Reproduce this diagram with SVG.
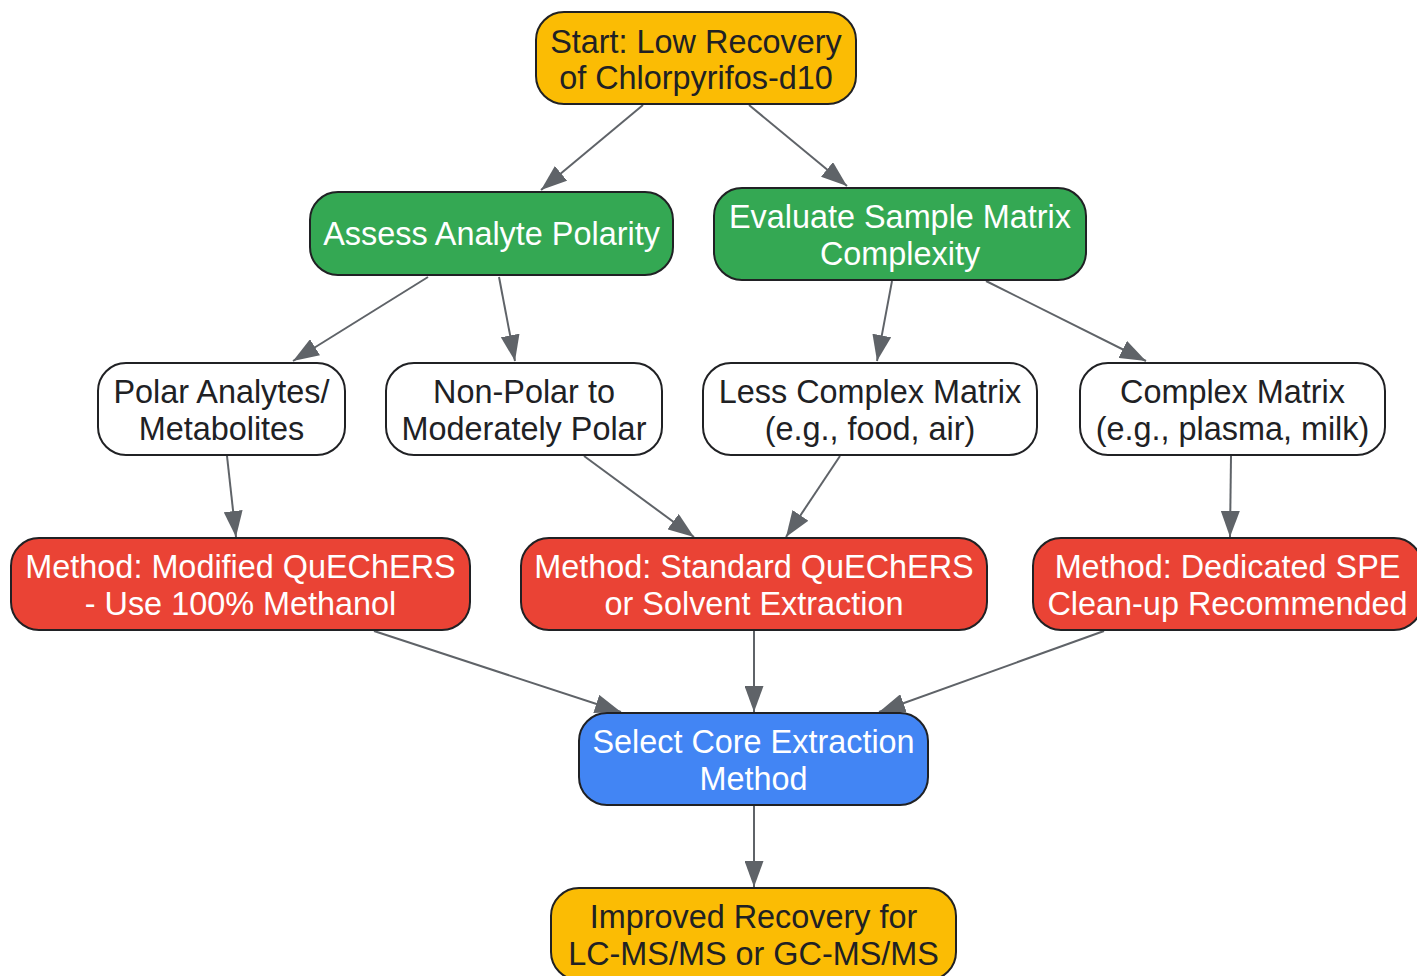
<svg xmlns="http://www.w3.org/2000/svg" width="1417" height="976" viewBox="0 0 1417 976">
<style>
.n rect{stroke:#202124;stroke-width:2}
.y rect{fill:#FBBC04}
.g rect{fill:#34A853}
.r rect{fill:#EA4335}
.b rect{fill:#4285F4}
.w rect{fill:#FFFFFF}
text{font-family:"Liberation Sans",Arial,sans-serif;font-size:32.4px;text-anchor:middle}
.y text,.w text{fill:#202124}
.g text,.r text,.b text{fill:#FFFFFF}
#edges line{stroke:#5F6368;stroke-width:2;marker-end:url(#ah)}
</style>
<defs>
<marker id="ah" markerUnits="userSpaceOnUse" markerWidth="26" markerHeight="19" refX="26" refY="9.5" orient="auto">
<path d="M0,0 L26,9.5 L0,19 Z" fill="#5F6368"/>
</marker>
</defs>
<g id="edges">
<line x1="643" y1="105" x2="541" y2="190"/>
<line x1="749" y1="105" x2="847" y2="186"/>
<line x1="428" y1="277" x2="293" y2="361"/>
<line x1="499" y1="277" x2="515" y2="361"/>
<line x1="892" y1="281" x2="877" y2="361"/>
<line x1="986" y1="281" x2="1146" y2="361"/>
<line x1="227" y1="456" x2="236" y2="537"/>
<line x1="584" y1="456" x2="694" y2="537"/>
<line x1="840" y1="456" x2="786" y2="537"/>
<line x1="1231" y1="456" x2="1230" y2="537"/>
<line x1="374" y1="631" x2="621" y2="712"/>
<line x1="754" y1="631" x2="754" y2="712"/>
<line x1="1104" y1="631" x2="879" y2="712"/>
<line x1="754" y1="806" x2="754" y2="887"/>
</g>
<g id="start" class="n y"><rect x="536" y="12" width="320" height="92" rx="28"/><text x="696" y="53">Start: Low Recovery</text><text x="696" y="89">of Chlorpyrifos-d10</text></g>
<g id="assess" class="n g"><rect x="310" y="192" width="363" height="83" rx="28"/><text x="491.5" y="245">Assess Analyte Polarity</text></g>
<g id="evaluate" class="n g"><rect x="714" y="188" width="372" height="92" rx="28"/><text x="900" y="228">Evaluate Sample Matrix</text><text x="900" y="265">Complexity</text></g>
<g id="polar" class="n w"><rect x="98" y="363" width="247" height="92" rx="28"/><text x="221.5" y="403">Polar Analytes/</text><text x="221.5" y="440">Metabolites</text></g>
<g id="nonpolar" class="n w"><rect x="386" y="363" width="276" height="92" rx="28"/><text x="524" y="403">Non-Polar to</text><text x="524" y="440">Moderately Polar</text></g>
<g id="less" class="n w"><rect x="703" y="363" width="334" height="92" rx="28"/><text x="870" y="403">Less Complex Matrix</text><text x="870" y="440">(e.g., food, air)</text></g>
<g id="complex" class="n w"><rect x="1080" y="363" width="305" height="92" rx="28"/><text x="1232.5" y="403">Complex Matrix</text><text x="1232.5" y="440">(e.g., plasma, milk)</text></g>
<g id="modified" class="n r"><rect x="11" y="538" width="459" height="92" rx="28"/><text x="240.5" y="578">Method: Modified QuEChERS</text><text x="240.5" y="615">- Use 100% Methanol</text></g>
<g id="standard" class="n r"><rect x="521" y="538" width="466" height="92" rx="28"/><text x="754" y="578">Method: Standard QuEChERS</text><text x="754" y="615">or Solvent Extraction</text></g>
<g id="dedicated" class="n r"><rect x="1033" y="538" width="389" height="92" rx="28"/><text x="1227.5" y="578">Method: Dedicated SPE</text><text x="1227.5" y="615">Clean-up Recommended</text></g>
<g id="select" class="n b"><rect x="579" y="713" width="349" height="92" rx="28"/><text x="753.5" y="753">Select Core Extraction</text><text x="753.5" y="790">Method</text></g>
<g id="improved" class="n y"><rect x="551" y="888" width="405" height="92" rx="28"/><text x="753.5" y="928">Improved Recovery for</text><text x="753.5" y="965">LC-MS/MS or GC-MS/MS</text></g>
</svg>
